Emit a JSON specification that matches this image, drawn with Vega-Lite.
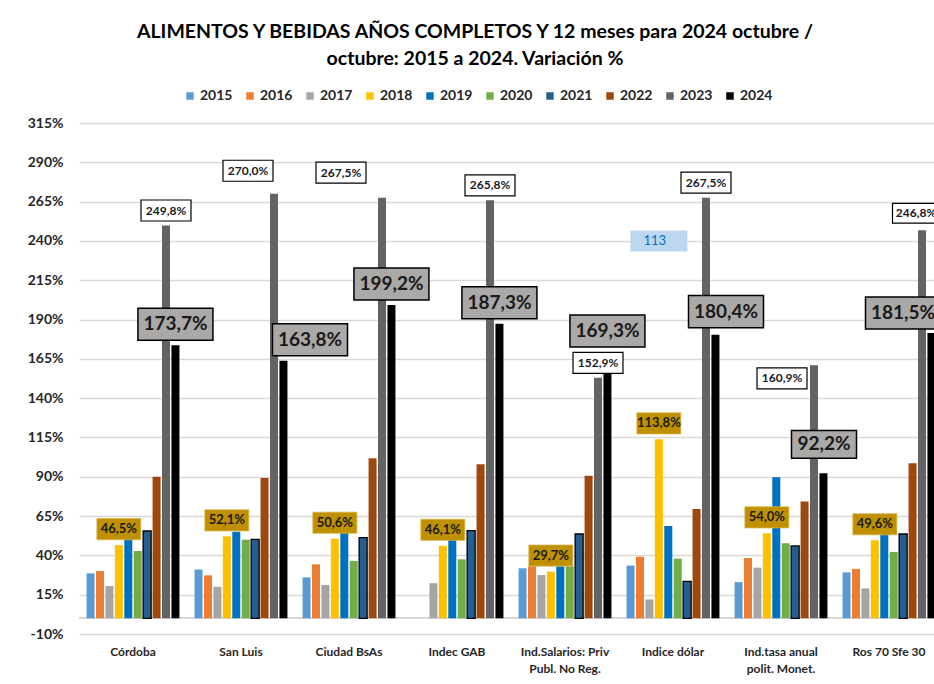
{
  "$schema": "https://vega.github.io/schema/vega-lite/v6.json",
  "autosize": {"type": "none"},
  "padding": {"left": 79, "top": 123, "right": 0, "bottom": 50},
  "width": 864,
  "height": 511,
  "background": "white",
  "config": {"view": {"stroke": null}},
  "title": {
    "text": ["ALIMENTOS Y BEBIDAS  AÑOS COMPLETOS Y 12 meses para 2024 octubre /", "octubre:  2015 a 2024. Variación %"],
    "font": "Lato",
    "fontSize": 19.5,
    "fontWeight": "bold",
    "color": "#000000",
    "lineHeight": 27,
    "anchor": "middle",
    "frame": "group",
    "dx": -36,
    "offset": 20
  },
  "data": {
    "values": [
      {"cat": "Córdoba", "year": "2015", "value": 28.6},
      {"cat": "Córdoba", "year": "2016", "value": 30.0},
      {"cat": "Córdoba", "year": "2017", "value": 20.5},
      {"cat": "Córdoba", "year": "2018", "value": 46.5},
      {"cat": "Córdoba", "year": "2019", "value": 53.0},
      {"cat": "Córdoba", "year": "2020", "value": 42.8},
      {"cat": "Córdoba", "year": "2021", "value": 55.5},
      {"cat": "Córdoba", "year": "2022", "value": 90.0},
      {"cat": "Córdoba", "year": "2023", "value": 249.8},
      {"cat": "Córdoba", "year": "2024", "value": 173.7},
      {"cat": "San Luis", "year": "2015", "value": 31.0},
      {"cat": "San Luis", "year": "2016", "value": 27.3},
      {"cat": "San Luis", "year": "2017", "value": 20.0},
      {"cat": "San Luis", "year": "2018", "value": 52.1},
      {"cat": "San Luis", "year": "2019", "value": 55.1},
      {"cat": "San Luis", "year": "2020", "value": 50.0},
      {"cat": "San Luis", "year": "2021", "value": 50.2},
      {"cat": "San Luis", "year": "2022", "value": 89.2},
      {"cat": "San Luis", "year": "2023", "value": 270.0},
      {"cat": "San Luis", "year": "2024", "value": 163.8},
      {"cat": "Ciudad BsAs", "year": "2015", "value": 26.0},
      {"cat": "Ciudad BsAs", "year": "2016", "value": 34.3},
      {"cat": "Ciudad BsAs", "year": "2017", "value": 21.2},
      {"cat": "Ciudad BsAs", "year": "2018", "value": 50.6},
      {"cat": "Ciudad BsAs", "year": "2019", "value": 55.0},
      {"cat": "Ciudad BsAs", "year": "2020", "value": 36.5},
      {"cat": "Ciudad BsAs", "year": "2021", "value": 51.3},
      {"cat": "Ciudad BsAs", "year": "2022", "value": 101.8},
      {"cat": "Ciudad BsAs", "year": "2023", "value": 267.5},
      {"cat": "Ciudad BsAs", "year": "2024", "value": 199.2},
      {"cat": "Indec GAB", "year": "2017", "value": 22.3},
      {"cat": "Indec GAB", "year": "2018", "value": 46.1},
      {"cat": "Indec GAB", "year": "2019", "value": 52.0},
      {"cat": "Indec GAB", "year": "2020", "value": 37.5},
      {"cat": "Indec GAB", "year": "2021", "value": 55.7},
      {"cat": "Indec GAB", "year": "2022", "value": 98.0},
      {"cat": "Indec GAB", "year": "2023", "value": 265.8},
      {"cat": "Indec GAB", "year": "2024", "value": 187.3},
      {"cat": "Ind.Salarios: Priv Publ. No Reg.", "year": "2015", "value": 31.8},
      {"cat": "Ind.Salarios: Priv Publ. No Reg.", "year": "2016", "value": 33.0},
      {"cat": "Ind.Salarios: Priv Publ. No Reg.", "year": "2017", "value": 27.5},
      {"cat": "Ind.Salarios: Priv Publ. No Reg.", "year": "2018", "value": 29.7},
      {"cat": "Ind.Salarios: Priv Publ. No Reg.", "year": "2019", "value": 33.0},
      {"cat": "Ind.Salarios: Priv Publ. No Reg.", "year": "2020", "value": 33.0},
      {"cat": "Ind.Salarios: Priv Publ. No Reg.", "year": "2021", "value": 53.6},
      {"cat": "Ind.Salarios: Priv Publ. No Reg.", "year": "2022", "value": 90.7},
      {"cat": "Ind.Salarios: Priv Publ. No Reg.", "year": "2023", "value": 152.9},
      {"cat": "Ind.Salarios: Priv Publ. No Reg.", "year": "2024", "value": 169.3},
      {"cat": "Indice dólar", "year": "2015", "value": 33.5},
      {"cat": "Indice dólar", "year": "2016", "value": 39.2},
      {"cat": "Indice dólar", "year": "2017", "value": 12.0},
      {"cat": "Indice dólar", "year": "2018", "value": 113.8},
      {"cat": "Indice dólar", "year": "2019", "value": 58.7},
      {"cat": "Indice dólar", "year": "2020", "value": 37.9},
      {"cat": "Indice dólar", "year": "2021", "value": 23.5},
      {"cat": "Indice dólar", "year": "2022", "value": 69.5},
      {"cat": "Indice dólar", "year": "2023", "value": 267.5},
      {"cat": "Indice dólar", "year": "2024", "value": 180.4},
      {"cat": "Ind.tasa anual polit. Monet.", "year": "2015", "value": 23.0},
      {"cat": "Ind.tasa anual polit. Monet.", "year": "2016", "value": 38.3},
      {"cat": "Ind.tasa anual polit. Monet.", "year": "2017", "value": 32.2},
      {"cat": "Ind.tasa anual polit. Monet.", "year": "2018", "value": 54.0},
      {"cat": "Ind.tasa anual polit. Monet.", "year": "2019", "value": 89.7},
      {"cat": "Ind.tasa anual polit. Monet.", "year": "2020", "value": 47.7},
      {"cat": "Ind.tasa anual polit. Monet.", "year": "2021", "value": 46.0},
      {"cat": "Ind.tasa anual polit. Monet.", "year": "2022", "value": 74.2},
      {"cat": "Ind.tasa anual polit. Monet.", "year": "2023", "value": 160.9},
      {"cat": "Ind.tasa anual polit. Monet.", "year": "2024", "value": 92.2},
      {"cat": "Ros 70 Sfe 30", "year": "2015", "value": 29.2},
      {"cat": "Ros 70 Sfe 30", "year": "2016", "value": 31.4},
      {"cat": "Ros 70 Sfe 30", "year": "2017", "value": 19.0},
      {"cat": "Ros 70 Sfe 30", "year": "2018", "value": 49.6},
      {"cat": "Ros 70 Sfe 30", "year": "2019", "value": 55.0},
      {"cat": "Ros 70 Sfe 30", "year": "2020", "value": 42.2},
      {"cat": "Ros 70 Sfe 30", "year": "2021", "value": 53.6},
      {"cat": "Ros 70 Sfe 30", "year": "2022", "value": 98.6},
      {"cat": "Ros 70 Sfe 30", "year": "2023", "value": 246.8},
      {"cat": "Ros 70 Sfe 30", "year": "2024", "value": 181.5}
    ]
  },
  "transform": [
    {"calculate": "replace(format(datum.value, '.1f'), '.', ',') + '%'", "as": "lbl"}
  ],
  "encoding": {
    "x": {
      "field": "cat",
      "type": "nominal",
      "sort": ["Córdoba", "San Luis", "Ciudad BsAs", "Indec GAB", "Ind.Salarios: Priv Publ. No Reg.", "Indice dólar", "Ind.tasa anual polit. Monet.", "Ros 70 Sfe 30"],
      "scale": {"paddingInner": 0.14, "paddingOuter": 0.07},
      "axis": {
        "title": null,
        "orient": "bottom",
        "labelAngle": 0,
        "labelFont": "Lato",
        "labelFontSize": 12,
        "labelFontWeight": "bold",
        "labelColor": "#262626",
        "labelPadding": 12,
        "labelLineHeight": 17,
        "labelBaseline": "top",
        "ticks": false,
        "domain": false,
        "labelExpr": "datum.label == 'Ind.Salarios: Priv Publ. No Reg.' ? ['Ind.Salarios: Priv', 'Publ. No Reg.'] : datum.label == 'Ind.tasa anual polit. Monet.' ? ['Ind.tasa anual', 'polit. Monet.'] : datum.label"
      }
    },
    "xOffset": {
      "field": "year",
      "type": "nominal",
      "sort": ["2015", "2016", "2017", "2018", "2019", "2020", "2021", "2022", "2023", "2024"],
      "scale": {"paddingInner": 0.15, "paddingOuter": 0, "domain": ["2015", "2016", "2017", "2018", "2019", "2020", "2021", "2022", "2023", "2024"]}
    },
    "y": {
      "field": "value",
      "type": "quantitative",
      "scale": {"domain": [-10, 315], "nice": false, "zero": false},
      "axis": {
        "title": null,
        "values": [-10, 15, 40, 65, 90, 115, 140, 165, 190, 215, 240, 265, 290, 315],
        "labelExpr": "datum.value + '%'",
        "labelFont": "Lato",
        "labelFontSize": 14,
        "labelFontWeight": "bold",
        "labelColor": "#262626",
        "labelPadding": 16,
        "ticks": false,
        "domain": false,
        "grid": true,
        "gridColor": "#d9d9d9",
        "gridWidth": 1.5
      }
    }
  },
  "layer": [
    {
      "mark": {"type": "rule", "color": "#d9d9d9", "strokeWidth": 1.5},
      "encoding": {"x": null, "xOffset": null, "y": {"datum": 0}}
    },
    {
      "mark": {"type": "bar", "stroke": "#000000"},
      "encoding": {
        "color": {
          "field": "year",
          "type": "nominal",
          "scale": {
            "domain": ["2015", "2016", "2017", "2018", "2019", "2020", "2021", "2022", "2023", "2024"],
            "range": ["#5B9BD5", "#ED7D31", "#A5A5A5", "#FFC000", "#0070C0", "#70AD47", "#255E91", "#9E480E", "#636363", "#000000"]
          },
          "legend": {
            "title": null,
            "orient": "none",
            "legendX": 104,
            "legendY": -34,
            "direction": "horizontal",
            "symbolType": "square",
            "symbolSize": 56,
            "symbolStrokeWidth": 0,
            "labelFont": "Lato",
            "labelFontSize": 14,
            "labelFontWeight": "bold",
            "labelColor": "#262626",
            "labelOffset": 3,
            "columnPadding": 10
          }
        },
        "strokeWidth": {"condition": {"test": "datum.year == '2021'", "value": 1.3}, "value": 0}
      }
    },
    {
      "transform": [{"filter": "datum.year == '2018'"}],
      "mark": {"type": "point", "shape": "M-1,-0.48H1V0.48H-1Z", "size": 1936, "filled": true, "fill": "#BF9000", "opacity": 1, "stroke": "#D9B54A", "strokeWidth": 0.8, "yOffset": -16}
    },
    {
      "transform": [{"filter": "datum.year == '2018'"}],
      "mark": {"type": "text", "font": "Lato", "fontSize": 13, "fontWeight": "bold", "color": "#1a1a1a", "baseline": "middle", "dy": -16},
      "encoding": {"text": {"field": "lbl"}}
    },
    {
      "transform": [{"filter": "datum.year == '2023' && datum.cat != 'San Luis' && datum.cat != 'Ciudad BsAs' && datum.cat != 'Ind.tasa anual polit. Monet.' && datum.cat != 'Ros 70 Sfe 30'"}],
      "layer": [
        {"mark": {"type": "point", "shape": "M-1,-0.42H1V0.42H-1Z", "size": 2500, "filled": true, "fill": "#ffffff", "opacity": 1, "stroke": "#000000", "strokeWidth": 1.2, "yOffset": -15}},
        {"mark": {"type": "text", "font": "Lato", "fontSize": 12, "fontWeight": "bold", "color": "#1a1a1a", "baseline": "middle", "yOffset": -15}, "encoding": {"text": {"field": "lbl"}}}
      ]
    },
    {
      "transform": [{"filter": "datum.year == '2023' && datum.cat == 'San Luis'"}],
      "encoding": {"xOffset": null},
      "layer": [
        {"mark": {"type": "point", "shape": "M-1,-0.42H1V0.42H-1Z", "size": 2500, "filled": true, "fill": "#ffffff", "opacity": 1, "stroke": "#000000", "strokeWidth": 1.2, "xOffset": 7, "yOffset": -23}},
        {"mark": {"type": "text", "font": "Lato", "fontSize": 12, "fontWeight": "bold", "color": "#1a1a1a", "baseline": "middle", "xOffset": 7, "yOffset": -23}, "encoding": {"text": {"field": "lbl"}}}
      ]
    },
    {
      "transform": [{"filter": "datum.year == '2023' && datum.cat == 'Ciudad BsAs'"}],
      "encoding": {"xOffset": null},
      "layer": [
        {"mark": {"type": "point", "shape": "M-1,-0.42H1V0.42H-1Z", "size": 2500, "filled": true, "fill": "#ffffff", "opacity": 1, "stroke": "#000000", "strokeWidth": 1.2, "xOffset": -8, "yOffset": -25}},
        {"mark": {"type": "text", "font": "Lato", "fontSize": 12, "fontWeight": "bold", "color": "#1a1a1a", "baseline": "middle", "xOffset": -8, "yOffset": -25}, "encoding": {"text": {"field": "lbl"}}}
      ]
    },
    {
      "transform": [{"filter": "datum.year == '2023' && datum.cat == 'Ind.tasa anual polit. Monet.'"}],
      "encoding": {"xOffset": null},
      "layer": [
        {"mark": {"type": "point", "shape": "M-1,-0.42H1V0.42H-1Z", "size": 2500, "filled": true, "fill": "#ffffff", "opacity": 1, "stroke": "#000000", "strokeWidth": 1.2, "xOffset": 1, "yOffset": 13}},
        {"mark": {"type": "text", "font": "Lato", "fontSize": 12, "fontWeight": "bold", "color": "#1a1a1a", "baseline": "middle", "xOffset": 1, "yOffset": 13}, "encoding": {"text": {"field": "lbl"}}}
      ]
    },
    {
      "transform": [{"filter": "datum.year == '2023' && datum.cat == 'Ros 70 Sfe 30'"}],
      "encoding": {"xOffset": null},
      "layer": [
        {"mark": {"type": "point", "shape": "M-1,-0.42H1V0.42H-1Z", "size": 2209, "filled": true, "fill": "#ffffff", "opacity": 1, "stroke": "#000000", "strokeWidth": 1.2, "xOffset": 27, "yOffset": -17}},
        {"mark": {"type": "text", "font": "Lato", "fontSize": 12, "fontWeight": "bold", "color": "#1a1a1a", "baseline": "middle", "xOffset": 27, "yOffset": -17}, "encoding": {"text": {"field": "lbl"}}}
      ]
    },
    {
      "transform": [{"filter": "datum.year == '2024' && (datum.cat == 'Córdoba' || datum.cat == 'Ciudad BsAs' || datum.cat == 'Indec GAB' || datum.cat == 'Ind.Salarios: Priv Publ. No Reg.')"}],
      "layer": [
        {"mark": {"type": "point", "shape": "M-1,-0.427H1V0.427H-1Z", "size": 5625, "filled": true, "fill": "#ABA8A8", "opacity": 1, "stroke": "#000000", "strokeWidth": 1.5, "yOffset": -21}},
        {"mark": {"type": "text", "font": "Lato", "fontSize": 19, "fontWeight": "bold", "color": "#1a1a1a", "baseline": "middle", "yOffset": -21}, "encoding": {"text": {"field": "lbl"}}}
      ]
    },
    {
      "transform": [{"filter": "datum.year == '2024' && datum.cat == 'San Luis'"}],
      "encoding": {"xOffset": null},
      "layer": [
        {"mark": {"type": "point", "shape": "M-1,-0.427H1V0.427H-1Z", "size": 5625, "filled": true, "fill": "#ABA8A8", "opacity": 1, "stroke": "#000000", "strokeWidth": 1.5, "xOffset": 69, "yOffset": -21}},
        {"mark": {"type": "text", "font": "Lato", "fontSize": 19, "fontWeight": "bold", "color": "#1a1a1a", "baseline": "middle", "xOffset": 69, "yOffset": -21}, "encoding": {"text": {"field": "lbl"}}}
      ]
    },
    {
      "transform": [{"filter": "datum.year == '2024' && datum.cat == 'Indice dólar'"}],
      "encoding": {"xOffset": null},
      "layer": [
        {"mark": {"type": "point", "shape": "M-1,-0.427H1V0.427H-1Z", "size": 5625, "filled": true, "fill": "#ABA8A8", "opacity": 1, "stroke": "#000000", "strokeWidth": 1.5, "xOffset": 53, "yOffset": -23}},
        {"mark": {"type": "text", "font": "Lato", "fontSize": 19, "fontWeight": "bold", "color": "#1a1a1a", "baseline": "middle", "xOffset": 53, "yOffset": -23}, "encoding": {"text": {"field": "lbl"}}}
      ]
    },
    {
      "transform": [{"filter": "datum.year == '2024' && datum.cat == 'Ind.tasa anual polit. Monet.'"}],
      "encoding": {"xOffset": null},
      "layer": [
        {"mark": {"type": "point", "shape": "M-1,-0.427H1V0.427H-1Z", "size": 4225, "filled": true, "fill": "#ABA8A8", "opacity": 1, "stroke": "#000000", "strokeWidth": 1.5, "xOffset": 43, "yOffset": -29}},
        {"mark": {"type": "text", "font": "Lato", "fontSize": 19, "fontWeight": "bold", "color": "#1a1a1a", "baseline": "middle", "xOffset": 43, "yOffset": -29}, "encoding": {"text": {"field": "lbl"}}}
      ]
    },
    {
      "transform": [{"filter": "datum.year == '2024' && datum.cat == 'Ros 70 Sfe 30'"}],
      "encoding": {"xOffset": null},
      "layer": [
        {"mark": {"type": "point", "shape": "M-1,-0.427H1V0.427H-1Z", "size": 5625, "filled": true, "fill": "#ABA8A8", "opacity": 1, "stroke": "#000000", "strokeWidth": 1.5, "xOffset": 14, "yOffset": -20}},
        {"mark": {"type": "text", "font": "Lato", "fontSize": 19, "fontWeight": "bold", "color": "#1a1a1a", "baseline": "middle", "xOffset": 14, "yOffset": -20}, "encoding": {"text": {"field": "lbl"}}}
      ]
    },
    {
      "data": {"values": [{"cat": "Indice dólar", "year": "2018", "note": "113", "pos": 240}]},
      "mark": {"type": "point", "shape": "M-1,-0.37H1V0.37H-1Z", "size": 3249, "filled": true, "fill": "#BDD7EE", "opacity": 1, "strokeWidth": 0},
      "encoding": {"y": {"field": "pos", "type": "quantitative"}}
    },
    {
      "data": {"values": [{"cat": "Indice dólar", "year": "2018", "note": "113", "pos": 240}]},
      "mark": {"type": "text", "font": "Lato", "fontSize": 13, "color": "#0070C0", "baseline": "middle", "dx": -4},
      "encoding": {"y": {"field": "pos", "type": "quantitative"}, "text": {"field": "note"}}
    }
  ]
}
